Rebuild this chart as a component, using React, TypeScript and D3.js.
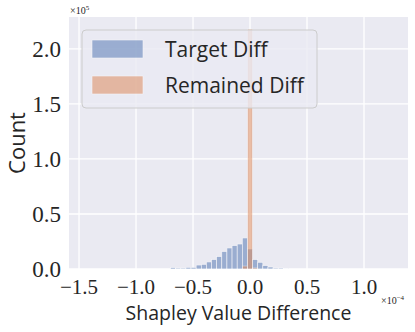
import React, { useEffect, useRef } from 'react';
import * as d3 from 'd3';

// bin left edges, in units of 1e-4
const binEdges = [
  -0.6975, -0.6525, -0.6075, -0.5625, -0.5175, -0.4725, -0.4275, -0.3825,
  -0.3375, -0.2925, -0.2475, -0.2025, -0.1575, -0.1125, -0.0675, -0.0225,
  0.0225, 0.0675, 0.1125, 0.1575, 0.2025, 0.2475, 0.2925,
];
const binWidth = 0.045;
const targetDiff = [
  1200, 900, 900, 1500, 1500, 3600, 4200, 6400, 8500, 11200, 15800, 19100,
  21200, 22700, 28200, 18200, 8500, 6100, 3000, 1800, 900, 900, 400,
];
const remainedDiff = [
  0, 0, 0, 0, 0, 0, 0, 0, 0, 0, 0, 0, 0, 0, 2700, 218000, 1000, 0, 0, 0, 0, 0, 0,
];
const xTicks = [-1.5, -1.0, -0.5, 0.0, 0.5, 1.0];
const yTicks = [0, 50000, 100000, 150000, 200000];
const seriesNames = ['Target Diff', 'Remained Diff'];
const seriesColors = ['#4C72B0', '#DD8452'];

const serif = '"Liberation Serif", "DejaVu Serif", serif';
const sans = '"Open Sans", "DejaVu Sans", sans-serif';

const App = () => {
  const svgRef = useRef<SVGSVGElement>(null);

  useEffect(() => {
    const svg = d3.select(svgRef.current);
    svg.selectAll('*').remove();

    const left = 69, right = 408, top = 17, bottom = 269;

    const x = d3.scaleLinear().domain([-1.588, 1.386]).range([left, right]);
    const y = d3.scaleLinear().domain([0, 229000]).range([bottom, top]);

    // background
    svg.append('rect')
      .attr('x', left).attr('y', top)
      .attr('width', right - left).attr('height', bottom - top)
      .attr('fill', '#EAEAF2');

    // grid
    svg.append('g').selectAll('line')
      .data(xTicks).join('line')
      .attr('x1', d => x(d)).attr('x2', d => x(d))
      .attr('y1', top).attr('y2', bottom)
      .attr('stroke', '#fff').attr('stroke-width', 1.3);
    svg.append('g').selectAll('line')
      .data(yTicks).join('line')
      .attr('x1', left).attr('x2', right)
      .attr('y1', d => y(d)).attr('y2', d => y(d))
      .attr('stroke', '#fff').attr('stroke-width', 1.3);

    // histograms
    [targetDiff, remainedDiff].forEach((vals, si) => {
      svg.append('g')
        .attr('opacity', 0.5)
        .selectAll('rect')
        .data(vals.map((v, i) => ({ x0: binEdges[i], v })).filter(d => d.v > 0))
        .join('rect')
        .attr('x', d => x(d.x0))
        .attr('width', d => x(d.x0 + binWidth) - x(d.x0))
        .attr('y', d => y(d.v))
        .attr('height', d => y(0) - y(d.v))
        .attr('fill', seriesColors[si])
        .attr('stroke', '#fff')
        .attr('stroke-width', 0.6);
    });

    // tick labels
    svg.append('g').selectAll('text')
      .data(yTicks).join('text')
      .attr('x', 61).attr('y', d => y(d) + 8)
      .attr('text-anchor', 'end')
      .attr('font-family', serif).attr('font-size', 23)
      .attr('fill', '#262626')
      .text(d => (d / 1e5).toFixed(1));
    svg.append('g').selectAll('text')
      .data(xTicks).join('text')
      .attr('x', d => x(d)).attr('y', 294)
      .attr('text-anchor', 'middle')
      .attr('font-family', serif).attr('font-size', 21)
      .attr('fill', '#262626')
      .text(d => (d < 0 ? '\u2212' : '') + Math.abs(d).toFixed(1));

    // offset labels
    const off1 = svg.append('text')
      .attr('x', 70).attr('y', 14)
      .attr('font-family', serif).attr('font-size', 10).attr('fill', '#262626');
    off1.append('tspan').text('\u00d710');
    off1.append('tspan').attr('dy', -4).attr('font-size', 7).text('5');
    const off2 = svg.append('text')
      .attr('x', 381).attr('y', 304)
      .attr('font-family', serif).attr('font-size', 10).attr('fill', '#262626');
    off2.append('tspan').text('\u00d710');
    off2.append('tspan').attr('dy', -4).attr('font-size', 7).text('\u22124');

    // axis labels
    svg.append('text')
      .attr('x', (left + right) / 2).attr('y', 320)
      .attr('text-anchor', 'middle')
      .attr('font-family', sans).attr('font-size', 19.5).attr('fill', '#262626')
      .text('Shapley Value Difference');
    svg.append('text')
      .attr('transform', `translate(25, ${(top + bottom) / 2}) rotate(-90)`)
      .attr('text-anchor', 'middle')
      .attr('font-family', sans).attr('font-size', 22).attr('fill', '#262626')
      .text('Count');

    // legend
    const legend = svg.append('g');
    legend.append('rect')
      .attr('x', 82).attr('y', 30).attr('width', 235).attr('height', 78)
      .attr('rx', 4)
      .attr('fill', '#EAEAF2').attr('fill-opacity', 0.8)
      .attr('stroke', '#cccccc').attr('stroke-width', 1);
    seriesNames.forEach((name, i) => {
      legend.append('rect')
        .attr('x', 92).attr('y', 40 + i * 36)
        .attr('width', 51).attr('height', 18)
        .attr('fill', seriesColors[i]).attr('opacity', 0.5)
        .attr('stroke', '#fff').attr('stroke-width', 0.6);
      legend.append('text')
        .attr('x', 165).attr('y', 57 + i * 36)
        .attr('font-family', sans).attr('font-size', 21).attr('fill', '#262626')
        .text(name);
    });
  }, []);

  return (
    <svg ref={svgRef} width={415} height={332}
      style={{ position: 'absolute', left: 0, top: 0, background: '#fff' }} />
  );
};

export default App;
